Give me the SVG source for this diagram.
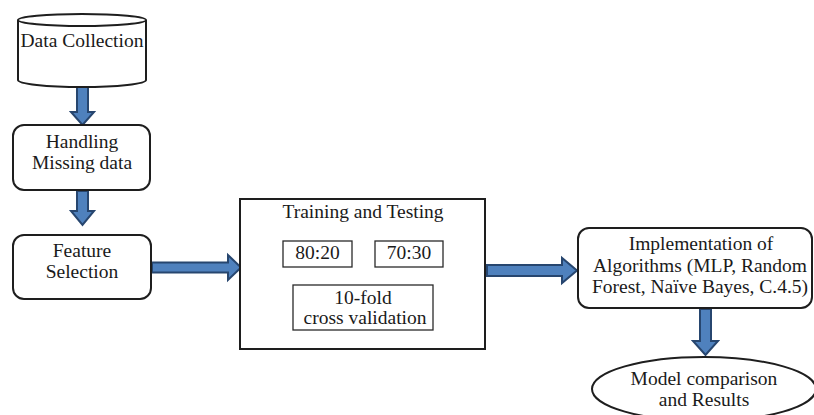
<svg xmlns="http://www.w3.org/2000/svg" width="814" height="415" viewBox="0 0 814 415">
  <style>
    .box { fill: #ffffff; stroke: #1e1e1e; stroke-width: 2; }
    .thin { fill: #ffffff; stroke: #2a2a2a; stroke-width: 1.3; }
    .arrow { fill: #4f81bd; stroke: #27466f; stroke-width: 2; stroke-linejoin: miter; }
    svg text.lbl { font-family: "Liberation Serif", serif; font-size: 19.5px; fill: #1a1a1a; text-anchor: middle; }
  </style>
  <rect width="814" height="415" fill="#ffffff"/>

  <!-- connectors: block arrows -->
  <g id="connectors">
    <polygon class="arrow" points="77,87 88,87 88,112 94,112 82.5,125 71,112 77,112"/>
    <polygon class="arrow" points="77,191 88,191 88,211 94,211 82.5,225 71,211 77,211"/>
    <polygon class="arrow" points="152,262.5 228,262.5 228,255 241,267.5 228,280 228,272.5 152,272.5"/>
    <polygon class="arrow" points="487,265 562,265 562,258 577,270.5 562,283 562,276 487,276"/>
    <polygon class="arrow" points="700,309 711,309 711,341 718,341 705.5,355 693,341 700,341"/>
  </g>

  <!-- data collection (cylinder) -->
  <g id="data-collection">
    <path class="box" d="M18,20 L18,80 A64,7 0 0 0 146,80 L146,20"/>
    <ellipse class="box" cx="82" cy="20" rx="64" ry="6"/>
    <text class="lbl" x="82" y="47" font-family="Liberation Serif">Data Collection</text>
  </g>

  <!-- handling missing data -->
  <g id="handling-missing">
    <rect class="box" x="13" y="125" width="137" height="65" rx="11"/>
    <text class="lbl" x="82" y="148" font-family="Liberation Serif">Handling</text>
    <text class="lbl" x="82" y="169" font-family="Liberation Serif">Missing data</text>
  </g>

  <!-- feature selection -->
  <g id="feature-selection">
    <rect class="box" x="13" y="235" width="138" height="64" rx="11"/>
    <text class="lbl" x="82" y="257" font-family="Liberation Serif">Feature</text>
    <text class="lbl" x="82" y="278" font-family="Liberation Serif">Selection</text>
  </g>

  <!-- training and testing -->
  <g id="training-testing">
    <rect class="box" x="240" y="199" width="245" height="150"/>
    <text class="lbl" x="363" y="218" font-family="Liberation Serif">Training and Testing</text>
    <rect class="thin" x="283" y="241" width="69" height="26"/>
    <text class="lbl" x="317.5" y="259" font-family="Liberation Serif">80:20</text>
    <rect class="thin" x="375" y="241" width="68" height="26"/>
    <text class="lbl" x="409" y="259" font-family="Liberation Serif">70:30</text>
    <rect class="thin" x="293" y="285" width="140" height="45"/>
    <text class="lbl" x="363" y="304" font-family="Liberation Serif">10-fold</text>
    <text class="lbl" x="365" y="324" font-family="Liberation Serif">cross validation</text>
  </g>

  <!-- implementation of algorithms -->
  <g id="implementation">
    <rect class="box" x="578" y="228" width="234" height="80" rx="11"/>
    <text class="lbl" x="701" y="250" font-family="Liberation Serif">Implementation of</text>
    <text class="lbl" x="700" y="272" font-family="Liberation Serif">Algorithms (MLP, Random</text>
    <text class="lbl" x="700" y="293" font-family="Liberation Serif">Forest, Naïve Bayes, C.4.5)</text>
  </g>

  <!-- model comparison and results -->
  <g id="model-comparison">
    <ellipse class="box" cx="704" cy="389" rx="112" ry="32"/>
    <text class="lbl" x="704" y="385" font-family="Liberation Serif">Model comparison</text>
    <text class="lbl" x="704" y="406" font-family="Liberation Serif">and Results</text>
  </g>
</svg>
